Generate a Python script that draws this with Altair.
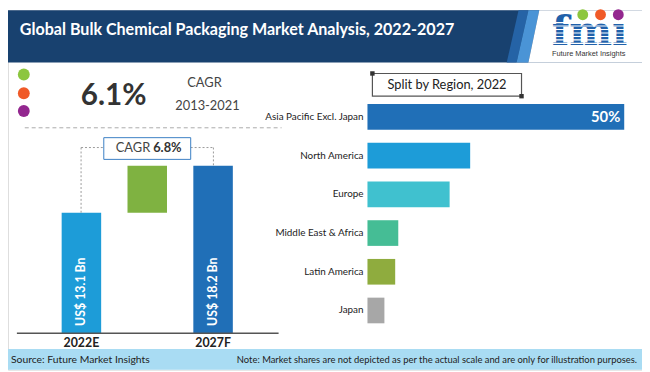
import altair as alt
import pandas as pd

# ---------------- data ----------------
TITLE = "Global Bulk Chemical Packaging Market Analysis, 2022-2027"
hist_cagr = "6.1%"
hist_label = "CAGR"
hist_period = "2013-2021"
fore_cagr_label = "CAGR"
fore_cagr = "6.8%"
years = ["2022E", "2027F"]
market_size = [13.1, 18.2]            # US$ Bn
value_labels = ["US$ 13.1 Bn", "US$ 18.2 Bn"]
regions = ["Asia Pacific Excl. Japan", "North America", "Europe",
           "Middle East & Africa", "Latin America", "Japan"]
region_share = [50, 20, 16, 6, 5.4, 3.3]
share_labels = ["50%", "", "", "", "", ""]
panel_title = "Split by Region, 2022"
source_text = "Source: Future Market Insights"
note_text = ("Note: Market shares are not depicted as per the actual scale "
             "and are only for illustration purposes.")
logo_word = "fm\u0131"
logo_tag = "Future Market Insights"

# ---------------- styles ----------------
NAVY = "#18416f"
MID_STRIPE = "#2563a6"
LIGHT_STRIPE = "#4a94d6"
LOGO_BLUE = "#2161aa"
BAR_LIGHT = "#1d9cd8"
BAR_DARK = "#206fb7"
BAR_GREEN = "#7fb241"
region_colors = ["#206fb7", "#1d9cd8", "#40c1cf", "#45bd95", "#8fac3e", "#a7a7a7"]
dot_colors = ["#8cc63f", "#f05a28", "#93278f"]
FOOT = "#a9dcf3"
FONT = "Lato"

W, H = 642, 364
one = pd.DataFrame({"k": [0]})


def base():
    return alt.Chart(one)


def rect(x, x2, y, y2, **kw):
    return base().mark_rect(**kw).encode(
        x=alt.value(x), x2=alt.value(x2), y=alt.value(y), y2=alt.value(y2))


def rule(x, y, x2, y2, **kw):
    return base().mark_rule(**kw).encode(
        x=alt.value(x), y=alt.value(y), x2=alt.value(x2), y2=alt.value(y2))


def text(t, x, y, **kw):
    kw.setdefault("font", FONT)
    return base().mark_text(text=t, **kw).encode(x=alt.value(x), y=alt.value(y))


def dot(x, y, size, color, shape="circle"):
    return base().mark_point(shape=shape, filled=True, size=size, color=color,
                             opacity=1, strokeWidth=0).encode(
        x=alt.value(x), y=alt.value(y))


def poly(pts, color):
    xs = [p[0] for p in pts]
    ys = [p[1] for p in pts]
    cx = (min(xs) + max(xs)) / 2
    cy = (min(ys) + max(ys)) / 2
    h = max(max(xs) - min(xs), max(ys) - min(ys)) / 2
    path = "M" + " L".join(f"{(x - cx) / h:.4f},{(y - cy) / h:.4f}" for x, y in pts) + " Z"
    return base().mark_point(shape=path, filled=True, size=(2 * h) ** 2, color=color,
                             opacity=1, strokeWidth=0).encode(
        x=alt.value(cx), y=alt.value(cy))


layers = []

# ---------- header ----------
layers.append(rect(0, W, 0, 53, color=NAVY))
layers.append(poly([(517, 0), (527, 0), (515, 53), (505, 53)], MID_STRIPE))
layers.append(poly([(527, 0), (538, 0), (527, 53), (515, 53)], LIGHT_STRIPE))
layers.append(poly([(538, 0), (W, 0), (W, 53), (527, 53)], "white"))
layers.append(text(TITLE, 12, 20, align="left", baseline="middle", fontSize=16.3,
                   fontWeight="bold", color="white"))
# logo
layers.append(text(logo_word, 589, 35, align="center", baseline="alphabetic",
                   fontSize=41, fontWeight="bold", font="DejaVu Serif", color=LOGO_BLUE))
for yy in [12.5, 16, 19.5, 23, 26.5, 30, 33.5]:
    layers.append(rule(543, yy, 636, yy, color="white", strokeWidth=1.1))
for cx, c in zip([582, 600, 618], dot_colors):
    layers.append(dot(cx, 4.5, 121, c))
layers.append(text(logo_tag, 588, 44, align="center", baseline="middle", fontSize=7.5,
                   font="Liberation Sans", color="#333333"))

# ---------- left panel: historic CAGR ----------
for yy, c in zip([65, 84, 102], dot_colors):
    layers.append(dot(16, yy, 144, c))
layers.append(text(hist_cagr, 107, 87, align="center", baseline="middle", fontSize=30,
                   fontWeight="bold", color="#333333"))
layers.append(text(hist_label, 199, 74, align="center", baseline="middle", fontSize=13,
                   color="#444444"))
layers.append(text(hist_period, 202, 97, align="center", baseline="middle", fontSize=13,
                   color="#444444"))
layers.append(rule(17, 119, 277, 119, color="#aaaaaa", strokeDash=[4, 3], strokeWidth=1))

# ---------- left panel: waterfall ----------
cats = [years[0], "growth", years[1]]
wf = pd.DataFrame({
    "cat": cats,
    "start": [0, market_size[0], 0],
    "end": [market_size[0], market_size[1], market_size[1]],
    "label": [value_labels[0], "", value_labels[1]],
})
xl = alt.X("cat:N", sort=cats, axis=None,
           scale=alt.Scale(domain=cats, range=[41, 241], paddingInner=0.4, paddingOuter=0.2))
yl = alt.Y("start:Q", axis=None,
           scale=alt.Scale(domain=[0, 20], range=[327, 140.8], nice=False, zero=False))
wf_bars = alt.Chart(wf).mark_bar().encode(
    x=xl, y=yl, y2="end:Q",
    color=alt.Color("cat:N", legend=None,
                    scale=alt.Scale(domain=cats, range=[BAR_LIGHT, BAR_GREEN, BAR_DARK])))
wf_vals = alt.Chart(wf).transform_filter("datum.label != ''").mark_text(
    angle=270, color="white", fontWeight="bold", fontSize=12.5, font=FONT,
    baseline="middle", align="center").encode(x=xl, y=alt.value(285), text="label:N")
wf_years = alt.Chart(wf).transform_filter("datum.cat != 'growth'").mark_text(
    color="#222222", fontWeight="bold", fontSize=12.5, font=FONT,
    baseline="middle", align="center").encode(x=xl, y=alt.value(337), text="cat:N")
layers.append(alt.layer(wf_bars, wf_vals, wf_years))

# connectors + CAGR box
layers.append(rule(74, 205, 74, 139, color="#999999", strokeDash=[2, 2]))
layers.append(rule(74, 139, 97, 139, color="#999999", strokeDash=[2, 2]))
layers.append(rule(185, 139, 208, 139, color="#999999", strokeDash=[2, 2]))
layers.append(rule(208, 139, 208, 158, color="#999999", strokeDash=[2, 2]))
layers.append(rect(97, 185, 129, 151, fill="white", stroke="#3a7fc4", strokeWidth=1))
layers.append(text(fore_cagr_label, 144, 140, align="right", baseline="middle",
                   fontSize=13, color="#444444"))
layers.append(text(fore_cagr, 147, 140, align="left", baseline="middle",
                   fontSize=13, fontWeight="bold", color="#333333"))
layers.append(rule(9, 327, 274, 327, color="#555555", strokeWidth=1.5))

# ---------- right panel: split by region ----------
layers.append(rect(369, 520, 64, 87, fill="white", stroke="#555555", strokeWidth=1.2))
layers.append(dot(369, 64, 20, "#333333", shape="square"))
layers.append(dot(520, 87, 20, "#333333", shape="square"))
layers.append(text(panel_title, 444.5, 76, align="center", baseline="middle",
                   fontSize=13, color="#222222"))

rg = pd.DataFrame({"region": regions, "share": region_share, "lab": share_labels})
yr = alt.Y("region:N", sort=regions, axis=None,
           scale=alt.Scale(domain=regions, range=[88.4, 323.6],
                           paddingInner=0.337, paddingOuter=0.1685))
xr = alt.X("share:Q", axis=None,
           scale=alt.Scale(domain=[0, 50], range=[364, 624], nice=False, zero=True))
rg_bars = alt.Chart(rg).mark_bar().encode(
    x=xr, y=yr,
    color=alt.Color("region:N", legend=None,
                    scale=alt.Scale(domain=regions, range=region_colors)))
rg_names = alt.Chart(rg).mark_text(align="right", baseline="middle", fontSize=10,
                                   font=FONT, color="#222222").encode(
    x=alt.value(360), y=yr, text="region:N")
rg_pct = alt.Chart(rg).transform_filter("datum.lab != ''").mark_text(
    align="right", baseline="middle", dx=-4, fontSize=15, fontWeight="bold",
    font=FONT, color="white").encode(x=xr, y=yr, text="lab:N")
layers.append(alt.layer(rg_bars, rg_names, rg_pct))

# ---------- footer ----------
layers.append(rect(0, W, 343, H, color=FOOT))
layers.append(text(source_text, 3, 354, align="left", baseline="middle", fontSize=10.5,
                   color="#222222"))
layers.append(text(note_text, 637, 354, align="right", baseline="middle", fontSize=9.5,
                   color="#222222"))

chart = alt.layer(*layers).resolve_scale(
    x="independent", y="independent", color="independent"
).properties(
    width=W, height=H, padding=0,
    autosize=alt.AutoSizeParams(type="none"),
).configure_view(stroke=None).configure(font=FONT)

chart.save("out.html", embed_options={"renderer": "svg", "actions": False})
